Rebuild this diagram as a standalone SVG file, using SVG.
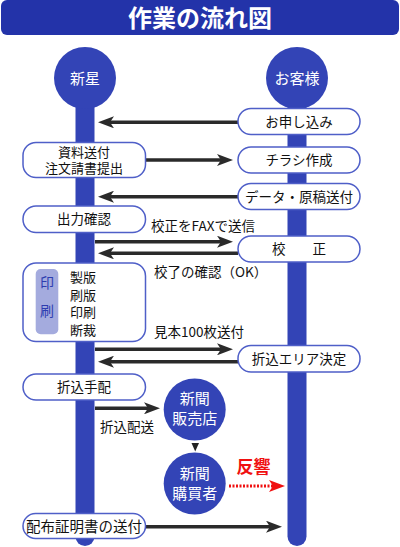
<svg xmlns="http://www.w3.org/2000/svg" width="400" height="547" viewBox="0 0 400 547">
<style>
text{font-family:"Noto Sans CJK JP","Noto Sans",sans-serif;}
.t{font-size:13.5px;fill:#111;text-anchor:middle;}
.l{font-size:13.5px;fill:#111;}
.s{font-size:13px;fill:#111;}
.w{font-size:15px;fill:#fff;text-anchor:middle;}
.box{fill:#fff;stroke:#4f5fc8;stroke-width:1.5;}
.bar{fill:#3344b6;}
.ar{stroke:#2a2a2a;stroke-width:3.5;fill:none;}
</style>
<defs>
<marker id="ah" viewBox="0 0 16 12" refX="4" refY="6" markerWidth="16" markerHeight="12" markerUnits="userSpaceOnUse" orient="auto">
<path d="M0,0 L16,6 L0,12 L4,6 z" fill="#2a2a2a"/>
</marker>
<marker id="rh" viewBox="0 0 16 12" refX="4" refY="6" markerWidth="16" markerHeight="12" markerUnits="userSpaceOnUse" orient="auto">
<path d="M0,0 L16,6 L0,12 L4,6 z" fill="#f01010"/>
</marker>
</defs>
<g id="title">
<rect x="1" y="0" width="398" height="35" rx="6" fill="#2333a9"/>
<text x="200" y="27" font-size="24" font-weight="bold" fill="#fff" text-anchor="middle">作業の流れ図</text>
</g>
<g id="lane-shinsei">
<rect class="bar" x="75.5" y="90" width="19" height="456" rx="9.5"/>
<circle class="bar" cx="85" cy="78" r="31"/>
<text class="w" x="85" y="84">新星</text>
</g>
<g id="lane-customer">
<rect class="bar" x="287.5" y="90" width="19" height="456" rx="9.5"/>
<circle class="bar" cx="297" cy="78" r="31"/>
<text class="w" x="297" y="84">お客様</text>
</g>
<g id="connectors">
<line class="ar" x1="238" y1="122.3" x2="110" y2="122.3" marker-end="url(#ah)"/>
<line class="ar" x1="146" y1="160" x2="221" y2="160" marker-end="url(#ah)"/>
<line class="ar" x1="238" y1="196.7" x2="110" y2="196.7" marker-end="url(#ah)"/>
<line class="ar" x1="95" y1="241.7" x2="221" y2="241.7" marker-end="url(#ah)"/>
<line class="ar" x1="238" y1="253.3" x2="110" y2="253.3" marker-end="url(#ah)"/>
<line class="ar" x1="95" y1="349.3" x2="221" y2="349.3" marker-end="url(#ah)"/>
<line class="ar" x1="238" y1="361.7" x2="110" y2="361.7" marker-end="url(#ah)"/>
<line class="ar" x1="95" y1="408.3" x2="148" y2="408.3" marker-end="url(#ah)"/>
<path d="M191.5,443 L199,443 L195.2,451.5 z" fill="#222"/>
<line x1="229" y1="486" x2="273" y2="486" stroke="#f01010" stroke-width="3" stroke-dasharray="2,1.5" marker-end="url(#rh)"/>
<line class="ar" x1="146" y1="526.7" x2="270" y2="526.7" marker-end="url(#ah)"/>
<text class="l" x="151" y="231">校正をFAXで送信</text>
<text class="l" x="154" y="277">校了の確認（OK）</text>
<text class="l" x="154" y="337">見本100枚送付</text>
<text class="l" x="100" y="432">折込配送</text>
</g>
<g id="n-moushikomi">
<rect class="box" x="238" y="108.5" width="122" height="26" rx="13"/>
<text class="t" x="299" y="126.5">お申し込み</text>
</g>
<g id="n-shiryo">
<rect class="box" x="23" y="142.5" width="122.5" height="35" rx="13"/>
<text font-size="13" fill="#111" text-anchor="middle"><tspan x="84" y="156.5">資料送付</tspan><tspan x="84" y="172.5">注文請書提出</tspan></text>
</g>
<g id="n-chirashi">
<rect class="box" x="238" y="147" width="122" height="26" rx="13"/>
<text class="t" x="299" y="165">チラシ作成</text>
</g>
<g id="n-data">
<rect class="box" x="238" y="183.5" width="122" height="26" rx="13"/>
<text class="t" x="299" y="201.5">データ・原稿送付</text>
</g>
<g id="n-shutsuryoku">
<rect class="box" x="23" y="206" width="122.5" height="26.5" rx="13"/>
<text class="t" x="84" y="224">出力確認</text>
</g>
<g id="n-kousei">
<rect class="box" x="238" y="236" width="122" height="26" rx="13"/>
<text class="t" x="299" y="254">校　　正</text>
</g>
<g id="n-insatsu">
<rect class="box" x="23" y="263" width="122.5" height="78.5" rx="13"/>
<rect x="35.7" y="269" width="22.6" height="65.3" rx="5" fill="#a4abde"/>
<text x="47" y="288" font-size="14" fill="#2d3db0" text-anchor="middle">印</text>
<text x="47" y="316" font-size="14" fill="#2d3db0" text-anchor="middle">刷</text>
<text class="s" x="70" y="282">製版</text>
<text class="s" x="70" y="299.5">刷版</text>
<text class="s" x="70" y="317">印刷</text>
<text class="s" x="70" y="334.5">断裁</text>
</g>
<g id="n-area">
<rect class="box" x="238" y="345.5" width="122" height="26.5" rx="13"/>
<text class="t" x="299" y="363.5">折込エリア決定</text>
</g>
<g id="n-tehai">
<rect class="box" x="23" y="374" width="122.5" height="26" rx="13"/>
<text class="t" x="84" y="392">折込手配</text>
</g>
<g id="n-hanbaiten">
<circle class="bar" cx="194.7" cy="409.5" r="31"/>
<text class="w" x="194.7" y="403.5">新聞</text>
<text class="w" x="194.7" y="423.5">販売店</text>
</g>
<g id="n-kounyusha">
<circle class="bar" cx="194.7" cy="483.5" r="31"/>
<text class="w" x="194.7" y="479">新聞</text>
<text class="w" x="194.7" y="498.5">購買者</text>
</g>
<g id="n-hankyo">
<text x="253.5" y="473" font-size="17" font-weight="bold" fill="#f01010" text-anchor="middle">反響</text>
</g>
<g id="n-shoumei">
<rect class="box" x="23" y="513.5" width="122.5" height="25" rx="12.5"/>
<text x="84" y="531.5" font-size="14.5" fill="#111" text-anchor="middle">配布証明書の送付</text>
</g>
</svg>
